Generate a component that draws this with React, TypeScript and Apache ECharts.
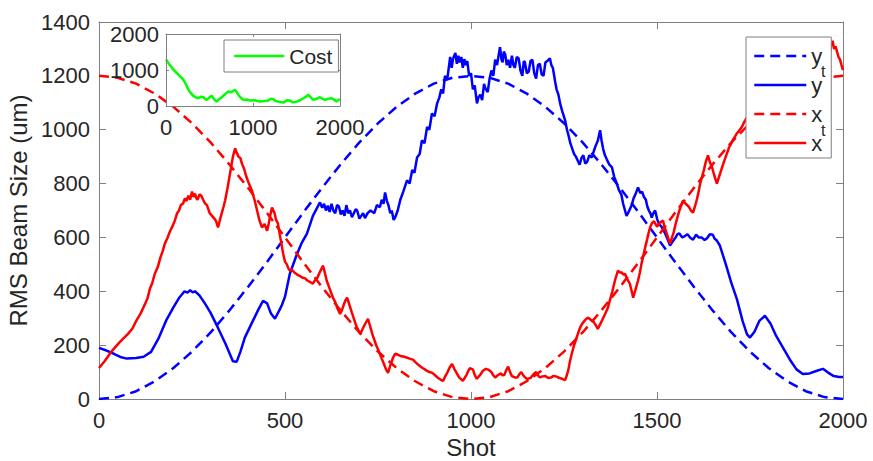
import React, { useEffect, useRef } from 'react';
import * as echarts from 'echarts';

// ---------- data ----------
const targetShots = [0, 50, 100, 150, 200, 250, 300, 350, 400, 450, 500, 550, 600, 650, 700, 750, 800, 850, 900, 950, 1000,
  1050, 1100, 1150, 1200, 1250, 1300, 1350, 1400, 1450, 1500, 1550, 1600, 1650, 1700, 1750, 1800, 1850, 1900, 1950, 2000];
const yTarget = [0, 7, 29, 66, 115, 176, 247, 328, 415, 506, 600, 694, 785, 872, 953, 1024, 1085, 1134, 1171, 1193, 1200,
  1193, 1171, 1134, 1085, 1024, 953, 872, 785, 694, 600, 506, 415, 328, 247, 176, 115, 66, 29, 7, 0];
const xTarget = [1200, 1193, 1171, 1134, 1085, 1024, 953, 872, 785, 694, 600, 506, 415, 328, 247, 176, 115, 66, 29, 7, 0,
  7, 29, 66, 115, 176, 247, 328, 415, 506, 600, 694, 785, 872, 953, 1024, 1085, 1134, 1171, 1193, 1200];

const yMeasured: [number, number][] = [
  [0, 190], [20, 180], [40, 168], [60, 155], [75, 150], [100, 152], [120, 157], [140, 175], [160, 225], [180, 290],
  [200, 340], [215, 375], [230, 400], [238, 395], [245, 404], [252, 396], [258, 400], [270, 385], [285, 354], [300, 320],
  [320, 264], [340, 205], [360, 140], [370, 138], [380, 175], [392, 228], [410, 280], [427, 328], [441, 365], [452, 355],
  [462, 318], [473, 298], [485, 330], [492, 350], [500, 380], [513, 465], [530, 530], [545, 580], [559, 614], [575, 680],
  [594, 730], [600, 710], [605, 725], [610, 700], [615, 718], [620, 695], [625, 725], [630, 700], [635, 690], [640, 720],
  [645, 715], [650, 685], [655, 700], [660, 680], [665, 720], [670, 690], [675, 700], [680, 675], [685, 690], [690, 705],
  [694, 700], [700, 670], [705, 680], [710, 690], [715, 672], [722, 690], [730, 700], [740, 690], [747, 720], [755, 712],
  [760, 740], [765, 725], [769, 767], [774, 735], [778, 720], [783, 690], [787, 700], [792, 665], [796, 674], [803, 700],
  [810, 740], [818, 770], [828, 812], [835, 800], [842, 850], [848, 840], [855, 897], [862, 910], [868, 960], [875, 950],
  [882, 1010], [888, 1000], [895, 1060], [902, 1050], [909, 1098], [915, 1120], [920, 1150], [925, 1135], [930, 1200], [936, 1185],
  [944, 1270], [948, 1230], [952, 1265], [958, 1285], [962, 1245], [966, 1275], [970, 1250], [974, 1270], [978, 1230], [982, 1262],
  [986, 1240], [990, 1255], [995, 1200], [1000, 1210], [1005, 1150], [1010, 1165], [1016, 1098], [1020, 1120], [1025, 1130], [1030, 1110],
  [1035, 1170], [1040, 1150], [1045, 1140], [1050, 1190], [1055, 1220], [1060, 1200], [1065, 1260], [1070, 1240], [1078, 1307], [1082, 1260],
  [1085, 1250], [1088, 1290], [1092, 1280], [1096, 1240], [1100, 1260], [1105, 1230], [1110, 1275], [1114, 1240], [1118, 1230], [1123, 1270],
  [1128, 1265], [1133, 1220], [1138, 1200], [1142, 1255], [1145, 1250], [1150, 1210], [1155, 1215], [1160, 1255], [1165, 1260], [1170, 1210],
  [1175, 1190], [1180, 1240], [1185, 1245], [1190, 1205], [1195, 1200], [1200, 1250], [1205, 1255], [1212, 1265], [1216, 1240], [1220, 1230],
  [1226, 1180], [1230, 1150], [1235, 1130], [1240, 1095], [1245, 1070], [1253, 1035], [1258, 1000], [1262, 980], [1267, 950], [1272, 930],
  [1277, 910], [1282, 900], [1287, 885], [1292, 870], [1297, 895], [1302, 905], [1307, 875], [1312, 880], [1318, 905], [1325, 897],
  [1330, 920], [1335, 940], [1341, 960], [1347, 998], [1351, 960], [1355, 930], [1360, 905], [1365, 890], [1372, 870], [1379, 860],
  [1385, 825], [1392, 800], [1398, 775], [1404, 760], [1409, 725], [1414, 700], [1418, 680], [1422, 690], [1427, 705], [1432, 720],
  [1437, 745], [1442, 760], [1449, 786], [1455, 765], [1460, 770], [1465, 750], [1470, 740], [1474, 715], [1478, 700], [1482, 690],
  [1486, 674], [1490, 690], [1495, 700], [1500, 670], [1505, 650], [1512, 640], [1520, 620], [1528, 595], [1535, 570], [1542, 585],
  [1550, 600], [1555, 612], [1560, 615], [1568, 600], [1575, 605], [1582, 612], [1590, 598], [1597, 592], [1605, 610], [1612, 600],
  [1620, 600], [1628, 590], [1635, 598], [1642, 612], [1650, 610], [1655, 595], [1660, 590], [1669, 570], [1685, 500], [1700, 430],
  [1715, 370], [1730, 290], [1742, 240], [1750, 228], [1762, 250], [1775, 290], [1790, 309], [1805, 280], [1820, 235], [1839, 190],
  [1860, 140], [1875, 110], [1892, 93], [1910, 95], [1930, 105], [1946, 112], [1960, 98], [1975, 85], [1990, 82], [2000, 82],
];

const xMeasured: [number, number][] = [
  [0, 115], [15, 140], [35, 179], [55, 210], [78, 242], [90, 262], [100, 290], [112, 318], [124, 354], [130, 372],
  [137, 410], [143, 430], [150, 465], [158, 490], [165, 525], [171, 548], [177, 577], [184, 598], [190, 620], [197, 640],
  [204, 663], [210, 690], [215, 700], [220, 720], [226, 726], [231, 745], [235, 735], [240, 755], [245, 740], [250, 770],
  [254, 750], [258, 763], [262, 745], [265, 740], [270, 760], [275, 755], [280, 740], [285, 726], [290, 720], [298, 689],
  [304, 680], [310, 670], [315, 660], [320, 637], [325, 665], [330, 690], [335, 715], [339, 737], [345, 780], [350, 820],
  [355, 860], [360, 900], [366, 931], [370, 915], [375, 900], [380, 895], [384, 875], [390, 855], [395, 830], [403, 800],
  [411, 774], [418, 740], [425, 700], [431, 665], [438, 637], [445, 650], [452, 625], [456, 650], [460, 680], [465, 711],
  [472, 690], [476, 665], [481, 652], [486, 610], [490, 580], [495, 540], [500, 510], [505, 500], [509, 485], [513, 477],
  [518, 480], [525, 470], [530, 465], [535, 460], [542, 455], [548, 450], [554, 448], [560, 440], [567, 435], [575, 428],
  [580, 440], [585, 445], [590, 460], [595, 475], [602, 495], [607, 470], [612, 440], [620, 410], [629, 376], [635, 360],
  [640, 340], [648, 316], [653, 330], [658, 350], [662, 365], [667, 376], [673, 350], [680, 320], [686, 295], [692, 270],
  [702, 242], [707, 255], [712, 270], [718, 285], [723, 298], [729, 270], [735, 240], [740, 220], [745, 200], [750, 185],
  [755, 168], [760, 150], [766, 130], [771, 112], [777, 97], [782, 120], [787, 140], [791, 155], [796, 168], [803, 165],
  [810, 160], [818, 158], [825, 155], [835, 150], [844, 146], [852, 135], [860, 125], [865, 120], [870, 115], [876, 110],
  [882, 104], [888, 100], [895, 98], [902, 90], [910, 80], [918, 72], [925, 67], [931, 85], [937, 100], [943, 118],
  [949, 130], [955, 112], [960, 100], [968, 80], [978, 67], [983, 78], [988, 90], [993, 105], [997, 115], [1001, 112],
  [1005, 110], [1010, 90], [1015, 75], [1020, 82], [1025, 90], [1032, 105], [1040, 112], [1048, 108], [1055, 100], [1060, 88],
  [1065, 80], [1072, 88], [1080, 95], [1085, 88], [1090, 90], [1095, 108], [1100, 120], [1105, 100], [1110, 85], [1118, 80],
  [1125, 80], [1130, 92], [1135, 100], [1142, 85], [1150, 75], [1155, 76], [1160, 78], [1168, 92], [1175, 100], [1180, 88],
  [1185, 80], [1192, 84], [1200, 85], [1208, 78], [1215, 80], [1222, 86], [1230, 83], [1238, 78], [1245, 75], [1253, 70],
  [1258, 90], [1262, 110], [1266, 140], [1271, 168], [1276, 195], [1282, 220], [1288, 245], [1293, 264], [1299, 280], [1305, 290],
  [1310, 298], [1315, 302], [1321, 295], [1328, 290], [1335, 275], [1341, 260], [1348, 280], [1355, 300], [1362, 320], [1368, 339],
  [1374, 370], [1380, 400], [1387, 440], [1395, 477], [1400, 470], [1405, 470], [1410, 462], [1414, 465], [1420, 445], [1427, 428],
  [1432, 400], [1436, 376], [1442, 405], [1449, 440], [1454, 470], [1458, 500], [1463, 530], [1468, 562], [1473, 590], [1478, 620],
  [1482, 640], [1486, 652], [1492, 660], [1500, 640], [1508, 655], [1516, 663], [1520, 640], [1525, 620], [1530, 598], [1535, 577],
  [1540, 598], [1545, 620], [1551, 655], [1558, 690], [1564, 715], [1570, 737], [1577, 725], [1585, 715], [1591, 700], [1597, 692],
  [1602, 715], [1607, 740], [1612, 770], [1616, 800], [1621, 825], [1626, 850], [1631, 880], [1637, 905], [1642, 880], [1648, 860],
  [1654, 830], [1661, 800], [1668, 830], [1675, 860], [1681, 885], [1688, 912], [1694, 935], [1700, 950], [1705, 965], [1710, 975],
  [1715, 987], [1720, 995], [1728, 1010], [1735, 1030], [1742, 1046], [1760, 1080], [1780, 1120], [1800, 1150], [1820, 1180], [1840, 1200],
  [1860, 1230], [1880, 1250], [1900, 1270], [1920, 1290], [1940, 1310], [1948, 1300], [1957, 1322], [1961, 1305], [1965, 1290], [1968, 1315],
  [1972, 1330], [1976, 1300], [1980, 1310], [1984, 1290], [1988, 1270], [1992, 1260], [1996, 1240], [2000, 1221],
];

const costPoints: [number, number][] = [
  [0, 1296], [40, 1150], [84, 1014], [140, 880], [199, 732], [230, 600], [257, 451], [290, 350], [314, 282], [345, 240],
  [372, 216], [400, 260], [429, 244], [450, 200], [467, 169], [500, 240], [525, 282], [555, 180], [582, 122], [610, 190],
  [640, 244], [680, 330], [716, 404], [750, 380], [793, 451], [815, 380], [831, 310], [860, 230], [889, 169], [930, 180],
  [965, 150], [1020, 160], [1080, 122], [1130, 140], [1176, 150], [1205, 200], [1234, 188], [1260, 140], [1291, 122], [1320, 110],
  [1349, 94], [1390, 160], [1425, 150], [1460, 100], [1502, 122], [1540, 160], [1579, 216], [1610, 260], [1636, 310], [1665, 240],
  [1693, 169], [1730, 200], [1770, 244], [1800, 200], [1828, 169], [1865, 200], [1904, 216], [1935, 170], [1962, 122], [1985, 180],
  [2000, 169],
];

const mainXTicks = { min: 0, max: 2000, interval: 500 };
const mainYTicks = { min: 0, max: 1400, interval: 200 };
const insetTicks = { min: 0, max: 2000, interval: 1000 };
const legendNames = ['yt', 'y', 'xt', 'x'];
const legendLabels: Record<string, string> = { yt: 'y', y: 'y', xt: 'x', x: 'x' };

const FONT = 'Liberation Sans, Arial, Helvetica, sans-serif';
const TEXT = '#262626';
const AXIS = '#808080';
const plain = (v: number) => String(v);

export default function App() {
  const ref = useRef<HTMLDivElement>(null);
  useEffect(() => {
    if (!ref.current) return;
    const chart = echarts.init(ref.current, undefined, { renderer: 'svg' });

    const axisBase = (extra: any) => ({
      type: 'value',
      splitLine: { show: false },
      axisLine: { show: true, onZero: false, lineStyle: { color: AXIS, width: 1 } },
      ...extra,
    });
    const mainTick = { show: true, inside: true, length: 7, lineStyle: { color: AXIS } };
    const insetTick = { show: true, inside: true, length: 3, lineStyle: { color: AXIS } };
    const label = (margin: number) => ({ color: TEXT, fontSize: 22, fontFamily: FONT, margin, formatter: plain });

    const subscript = (x: number, y: number) => ({
      type: 'text', z: 12, silent: true, x, y,
      style: { text: 't', fill: TEXT, fontSize: 16, fontFamily: FONT, textAlign: 'left', textVerticalAlign: 'middle' },
    });

    const option: any = {
      animation: false,
      backgroundColor: '#ffffff',
      grid: [
        { left: 99, right: 30, top: 22, bottom: 62, containLabel: false, outerBoundsMode: 'none' },
        { left: 166, right: 533, top: 34, bottom: 355, containLabel: false, outerBoundsMode: 'none', z: 6 },
      ],
      xAxis: [
        axisBase({
          gridIndex: 0, position: 'bottom', ...mainXTicks, axisTick: mainTick,
          axisLabel: label(10),
          name: 'Shot', nameLocation: 'middle', nameGap: 36,
          nameTextStyle: { color: TEXT, fontSize: 24, fontFamily: FONT },
        }),
        axisBase({ gridIndex: 0, position: 'top', ...mainXTicks, axisTick: mainTick, axisLabel: { show: false } }),
        axisBase({
          gridIndex: 1, position: 'bottom', ...insetTicks, axisTick: insetTick, z: 7,
          axisLabel: label(10),
        }),
        axisBase({ gridIndex: 1, position: 'top', ...insetTicks, axisTick: insetTick, axisLabel: { show: false }, z: 7 }),
      ],
      yAxis: [
        axisBase({
          gridIndex: 0, position: 'left', ...mainYTicks, axisTick: mainTick,
          axisLabel: label(9),
          name: 'RMS Beam Size (um)', nameLocation: 'middle', nameGap: 60,
          nameTextStyle: { color: TEXT, fontSize: 24, fontFamily: FONT },
        }),
        axisBase({ gridIndex: 0, position: 'right', ...mainYTicks, axisTick: mainTick, axisLabel: { show: false } }),
        axisBase({
          gridIndex: 1, position: 'left', ...insetTicks, axisTick: insetTick, z: 7,
          axisLabel: label(7),
        }),
        axisBase({ gridIndex: 1, position: 'right', ...insetTicks, axisTick: insetTick, axisLabel: { show: false }, z: 7 }),
      ],
      graphic: [
        {
          type: 'rect', z: 5, silent: true,
          shape: { x: 166, y: 34, width: 174, height: 72 },
          style: { fill: '#ffffff' },
        },
        subscript(821, 71),
        subscript(821, 130),
      ],
      legend: [
        {
          data: legendNames,
          orient: 'vertical', left: 746, top: 37, z: 10,
          padding: [7, 9, 3, 7], itemGap: 5, itemWidth: 52, itemHeight: 14,
          backgroundColor: '#ffffff', borderColor: '#7f7f7f', borderWidth: 1, borderRadius: 0,
          selectedMode: false,
          itemStyle: { opacity: 0 },
          lineStyle: { width: 2.5 },
          formatter: (n: string) => legendLabels[n],
          textStyle: { color: TEXT, fontFamily: FONT, fontSize: 22, lineHeight: 24 },
        },
        {
          data: ['Cost'],
          orient: 'vertical', left: 224, top: 40, z: 10,
          padding: [4, 6, 4, 9], itemWidth: 50, itemHeight: 14,
          backgroundColor: '#ffffff', borderColor: '#7f7f7f', borderWidth: 1, borderRadius: 0,
          selectedMode: false,
          itemStyle: { opacity: 0 },
          lineStyle: { width: 2.5 },
          textStyle: { color: TEXT, fontFamily: FONT, fontSize: 21, lineHeight: 24 },
        },
      ],
      series: [
        {
          name: 'yt', type: 'line', xAxisIndex: 0, yAxisIndex: 0, symbol: 'none', z: 2,
          data: targetShots.map((s, i) => [s, yTarget[i]]),
          lineStyle: { color: '#0000ff', width: 2.5, type: [10, 6] }, itemStyle: { color: '#0000ff' },
        },
        {
          name: 'y', type: 'line', xAxisIndex: 0, yAxisIndex: 0, symbol: 'none', z: 2,
          data: yMeasured,
          lineStyle: { color: '#0000ff', width: 2.5 }, itemStyle: { color: '#0000ff' },
        },
        {
          name: 'xt', type: 'line', xAxisIndex: 0, yAxisIndex: 0, symbol: 'none', z: 2,
          data: targetShots.map((s, i) => [s, xTarget[i]]),
          lineStyle: { color: '#ff0000', width: 2.5, type: [10, 6] }, itemStyle: { color: '#ff0000' },
        },
        {
          name: 'x', type: 'line', xAxisIndex: 0, yAxisIndex: 0, symbol: 'none', z: 2,
          data: xMeasured,
          lineStyle: { color: '#ff0000', width: 2.5 }, itemStyle: { color: '#ff0000' },
        },
        {
          name: 'Cost', type: 'line', xAxisIndex: 2, yAxisIndex: 2, symbol: 'none', z: 6,
          data: costPoints,
          lineStyle: { color: '#00ff00', width: 2.5 }, itemStyle: { color: '#00ff00' },
        },
      ],
    };
    chart.setOption(option);
    return () => chart.dispose();
  }, []);

  return (
    <div
      ref={ref}
      style={{ position: 'fixed', left: 0, top: 0, width: 873, height: 461, background: '#fff' }}
    />
  );
}
